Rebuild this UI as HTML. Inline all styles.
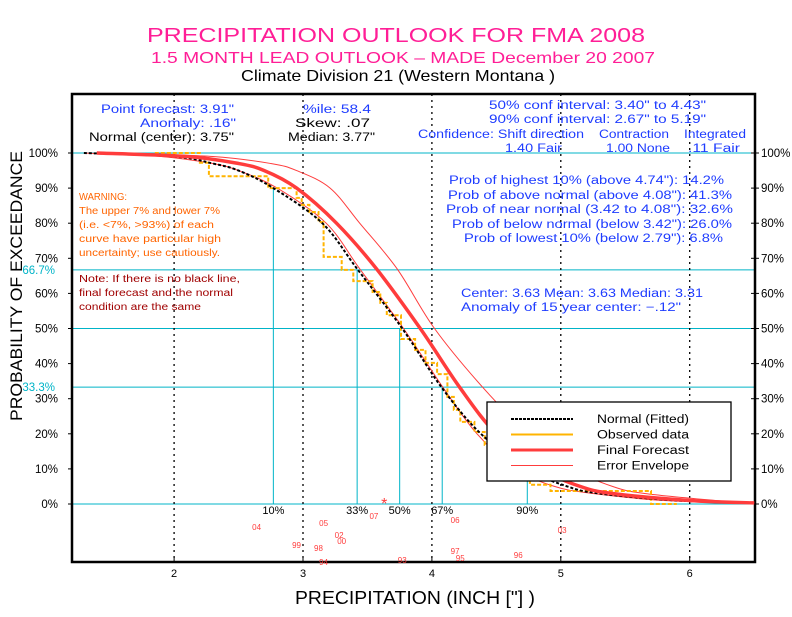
<!DOCTYPE html>
<html><head><meta charset="utf-8"><style>
body{margin:0;background:#fff}
svg text{font-family:"Liberation Sans",sans-serif}
</style></head><body>
<svg id="chart" width="792" height="612" viewBox="0 0 792 612" xmlns="http://www.w3.org/2000/svg">
<text x="147" y="42" font-size="20" fill="#ff1e96" textLength="498" lengthAdjust="spacingAndGlyphs">PRECIPITATION OUTLOOK FOR FMA 2008</text>
<text x="151" y="63" font-size="16" fill="#ff1e96" textLength="504" lengthAdjust="spacingAndGlyphs">1.5 MONTH LEAD OUTLOOK  – MADE December 20 2007</text>
<text x="241" y="81" font-size="16" fill="#000" textLength="314" lengthAdjust="spacingAndGlyphs">Climate Division 21 (Western Montana )</text>
<g id="plot"></g>
<g font-size="11.5" lengthAdjust="spacingAndGlyphs">
<text x="101" y="113" fill="#1e3cff" textLength="133" lengthAdjust="spacingAndGlyphs">Point forecast: 3.91"</text>
<text x="140" y="127" fill="#1e3cff" textLength="96" lengthAdjust="spacingAndGlyphs">Anomaly:   .16"</text>
<text x="89" y="141" fill="#000" textLength="145" lengthAdjust="spacingAndGlyphs">Normal (center): 3.75"</text>
<text x="303" y="113" fill="#1e3cff" textLength="68" lengthAdjust="spacingAndGlyphs">%ile:  58.4</text>
<text x="295" y="127" fill="#000" textLength="75" lengthAdjust="spacingAndGlyphs">Skew:    .07</text>
<text x="288" y="141" fill="#000" textLength="87" lengthAdjust="spacingAndGlyphs">Median: 3.77"</text>
<text x="489" y="109" fill="#1e3cff" textLength="217" lengthAdjust="spacingAndGlyphs">50% conf interval: 3.40" to 4.43"</text>
<text x="489" y="123" fill="#1e3cff" textLength="217" lengthAdjust="spacingAndGlyphs">90% conf interval: 2.67" to 5.19"</text>
<text x="418" y="138" fill="#1e3cff" textLength="166" lengthAdjust="spacingAndGlyphs">Confidence: Shift direction</text>
<text x="599" y="138" fill="#1e3cff" textLength="70" lengthAdjust="spacingAndGlyphs">Contraction</text>
<text x="684" y="138" fill="#1e3cff" textLength="62" lengthAdjust="spacingAndGlyphs">Integrated</text>
<text x="505" y="152" fill="#1e3cff" textLength="57" lengthAdjust="spacingAndGlyphs">1.40 Fair</text>
<text x="606" y="152" fill="#1e3cff" textLength="64" lengthAdjust="spacingAndGlyphs">1.00 None</text>
<text x="688" y="152" fill="#1e3cff" textLength="52" lengthAdjust="spacingAndGlyphs">.11 Fair</text>
<text x="449" y="184" fill="#1e3cff" textLength="275" lengthAdjust="spacingAndGlyphs">Prob of highest 10% (above 4.74"): 14.2%</text>
<text x="448" y="199" fill="#1e3cff" textLength="284" lengthAdjust="spacingAndGlyphs">Prob of above normal (above 4.08"): 41.3%</text>
<text x="446" y="213" fill="#1e3cff" textLength="287" lengthAdjust="spacingAndGlyphs">Prob of near normal (3.42 to 4.08"): 32.6%</text>
<text x="452" y="228" fill="#1e3cff" textLength="280" lengthAdjust="spacingAndGlyphs">Prob of below normal (below 3.42"): 26.0%</text>
<text x="464" y="242" fill="#1e3cff" textLength="259" lengthAdjust="spacingAndGlyphs">Prob of lowest 10% (below 2.79"): 6.8%</text>
<text x="461" y="297" fill="#1e3cff" textLength="242" lengthAdjust="spacingAndGlyphs">Center: 3.63 Mean: 3.63 Median: 3.31</text>
<text x="461" y="311" fill="#1e3cff" textLength="220" lengthAdjust="spacingAndGlyphs">Anomaly of 15 year center: −.12"</text>
</g>
<g font-size="10">
<text x="79" y="200" fill="#ff6400" textLength="48" lengthAdjust="spacingAndGlyphs">WARNING:</text>
<text x="79" y="214" fill="#ff6400" textLength="141" lengthAdjust="spacingAndGlyphs">The upper 7% and lower 7%</text>
<text x="79" y="228" fill="#ff6400" textLength="135" lengthAdjust="spacingAndGlyphs">(i.e. &lt;7%, &gt;93%) of each</text>
<text x="79" y="242" fill="#ff6400" textLength="142" lengthAdjust="spacingAndGlyphs">curve have particular high</text>
<text x="79" y="256" fill="#ff6400" textLength="141" lengthAdjust="spacingAndGlyphs">uncertainty; use cautiously.</text>
<text x="79" y="282" fill="#a00000" textLength="161" lengthAdjust="spacingAndGlyphs">Note: If there is no black line,</text>
<text x="79" y="296" fill="#a00000" textLength="154" lengthAdjust="spacingAndGlyphs">final forecast and the normal</text>
<text x="79" y="310" fill="#a00000" textLength="122" lengthAdjust="spacingAndGlyphs">condition are the same</text>
</g>
<text transform="translate(22,286) rotate(-90)" text-anchor="middle" font-size="17" textLength="270" lengthAdjust="spacingAndGlyphs">PROBABILITY OF EXCEEDANCE</text>
<text x="295" y="604" font-size="18" textLength="240" lengthAdjust="spacingAndGlyphs">PRECIPITATION (INCH ["] )</text>
</svg>
<script>
const probLevels=[100,99,97,95,90,80,67,50,33,20,10,5,3,1,0.3];
const normalVals=[1.3,2.0,2.3,2.5,2.77,3.15,3.42,3.77,4.08,4.38,4.74,5.05,5.3,5.9,6.5];
const forecastVals=[1.4,2.1,2.5,2.7,2.95,3.26,3.57,3.91,4.22,4.5,4.85,5.15,5.4,6.0,6.5];
const upperVals=[1.5,2.3,2.75,2.95,3.21,3.44,3.73,4.02,4.40,4.75,5.1,5.4,5.65,6.2,6.5];
const lowerVals=[1.3,1.9,2.3,2.5,2.8,3.18,3.44,3.78,4.09,4.35,4.65,4.95,5.25,5.8,6.5];
const obsX=[1.85,2.20,2.27,2.73,2.95,2.99,3.05,3.12,3.16,3.30,3.39,3.54,3.60,3.65,3.76,3.87,3.95,4.04,4.12,4.17,4.22,4.33,4.41,4.49,4.61,4.76,4.92,5.70,5.90];
const obsP=[100,97.2,93.4,90,87.2,85.2,83.2,80.3,70.4,66.7,63.5,60.4,57.3,53.8,47.0,43.9,40.2,37.0,30.5,26.8,23.4,20.5,16.8,12.5,8.3,5.5,3.7,0];
const yTicks=[0,10,20,30,40,50,60,70,80,90,100];
const xTicks=[2,3,4,5,6];
const pctNames=["10%","33%","50%","67%","90%"];
const pctVals=[2.77,3.42,3.75,4.08,4.74];
const pctLevels=[90,66.7,50,33.3,10];
const years=["04","05","02","00","99","98","94","07","93","06","97","95","96","03"];
const yearVals=[2.64,3.16,3.28,3.30,2.95,3.12,3.16,3.55,3.77,4.18,4.18,4.22,4.67,5.01];
const yearRow=[527,523,535,541,545,548,562,516,560,520,551,558,555,530];
const pointForecast=3.63;

const L=72,R=755,T=94,B=562;
const X=v=>303+(v-3)*128.9;
const Y=p=>504-p*3.51;
const NS="http://www.w3.org/2000/svg";
const g=document.getElementById('plot');
function mk(t,a,parent){const e=document.createElementNS(NS,t);for(const k in a)e.setAttribute(k,a[k]);(parent||g).appendChild(e);return e;}
function clipX(v){return Math.max(L,Math.min(R,X(v)));}

[100,66.7,50,33.3,0].forEach(p=>{const e=mk('line',{x1:L,x2:R,y1:Y(p),y2:Y(p),stroke:'#00b4c8','stroke-width':1});

});
xTicks.forEach(v=>{const e=mk('line',{x1:X(v),x2:X(v),y1:T,y2:B,stroke:'#000','stroke-width':1.3,'stroke-dasharray':'2,4'});

});
pctVals.forEach((v,i)=>{const e=mk('line',{x1:X(v),x2:X(v),y1:Y(0),y2:Y(pctLevels[i]),stroke:'#00b4c8','stroke-width':1});


const t=mk('text',{x:X(v),y:514,'text-anchor':'middle','font-size':11});t.textContent=pctNames[i];

});
const box=mk('rect',{x:L,y:T,width:R-L,height:B-T,fill:'none',stroke:'#000','stroke-width':2.5});


yTicks.forEach(p=>{
 const a=mk('text',{x:L-14,y:Y(p)+4,'text-anchor':'end','font-size':11.5});a.textContent=p+'%';
 
 
 const b=mk('text',{x:R+6,y:Y(p)+4,'font-size':11.5});b.textContent=p+'%';
 
 
 mk('line',{x1:R-4,x2:R+4,y1:Y(p),y2:Y(p),stroke:'#000'});
 mk('line',{x1:L-4,x2:L,y1:Y(p),y2:Y(p),stroke:'#000'});
});
[['66.7%',66.7],['33.3%',33.3]].forEach(d=>{const t=mk('text',{x:L-17,y:Y(d[1])+4,'text-anchor':'end','font-size':11.5,fill:'#00b4c8'});t.textContent=d[0];

});
xTicks.forEach(v=>{const t=mk('text',{x:X(v),y:577,'text-anchor':'middle','font-size':11});t.textContent=v;


mk('line',{x1:X(v),x2:X(v),y1:B,y2:B-5,stroke:'#000'});});
// smooth curves (Catmull-Rom through data points)
function smoothPath(P){let d='M'+P[0][0].toFixed(1)+','+P[0][1].toFixed(1);
 for(let i=0;i<P.length-1;i++){const p0=P[i-1]||P[i],p1=P[i],p2=P[i+1],p3=P[i+2]||P[i+1];
  const c1=[p1[0]+(p2[0]-p0[0])/6,p1[1]+(p2[1]-p0[1])/6],c2=[p2[0]-(p3[0]-p1[0])/6,p2[1]-(p3[1]-p1[1])/6];
  d+=' C'+c1.map(n=>n.toFixed(1)).join(',')+' '+c2.map(n=>n.toFixed(1)).join(',')+' '+p2[0].toFixed(1)+','+p2[1].toFixed(1);}
 return d;}
function curve(vals,attrs,name){const P=vals.map((v,i)=>[clipX(v),Y(probLevels[i])]);
 const e=mk('path',Object.assign({d:smoothPath(P),fill:'none','stroke-linejoin':'round'},attrs));
 
 }
curve(upperVals,{stroke:'#ff3c3c','stroke-width':1},'error-envelope-upper');
curve(lowerVals,{stroke:'#ff3c3c','stroke-width':1},'error-envelope-lower');
let pts=[];for(let i=0;i<obsP.length;i++){pts.push([X(obsX[i]),Y(obsP[i])]);pts.push([X(obsX[i+1]),Y(obsP[i])]);}
const obs=mk('polyline',{points:pts.map(p=>p[0].toFixed(1)+','+p[1].toFixed(1)).join(' '),fill:'none',stroke:'#ffb400','stroke-width':2,'stroke-dasharray':'4,2'});


curve(normalVals,{stroke:'#000','stroke-width':2,'stroke-dasharray':'3,2'},'normal-fitted-line');
curve(forecastVals,{stroke:'#ff3c3c','stroke-width':3.5},'final-forecast-line');
years.forEach((y,i)=>{const t=mk('text',{x:X(yearVals[i]),y:yearRow[i]+3,'text-anchor':'middle','font-size':8,fill:'#ff3c3c'});t.textContent=y;

});
const st=mk('text',{x:X(pointForecast),y:Y(0)+5,'text-anchor':'middle','font-size':16,fill:'#ff3c3c'});st.textContent='*';


const lg=mk('g',{});


mk('rect',{x:487,y:402,width:244,height:79,fill:'#fff',stroke:'#000','stroke-width':1.3},lg);
const legNames=['Normal (Fitted)','Observed data','Final Forecast','Error Envelope'];
const legStyles=[{stroke:'#000','stroke-width':2,'stroke-dasharray':'3,1'},{stroke:'#ffb400','stroke-width':2},{stroke:'#ff3c3c','stroke-width':3},{stroke:'#ff3c3c','stroke-width':1}];
legNames.forEach((n,i)=>{const yy=419+i*15.5;
 const l=mk('line',Object.assign({x1:511,x2:573,y1:yy,y2:yy},legStyles[i]),lg);
 
 
 const t=mk('text',{x:597,y:yy+4,'font-size':11.5,textLength:92,lengthAdjust:'spacingAndGlyphs'},lg);t.textContent=n;
 
 });
</script>
</body></html>
